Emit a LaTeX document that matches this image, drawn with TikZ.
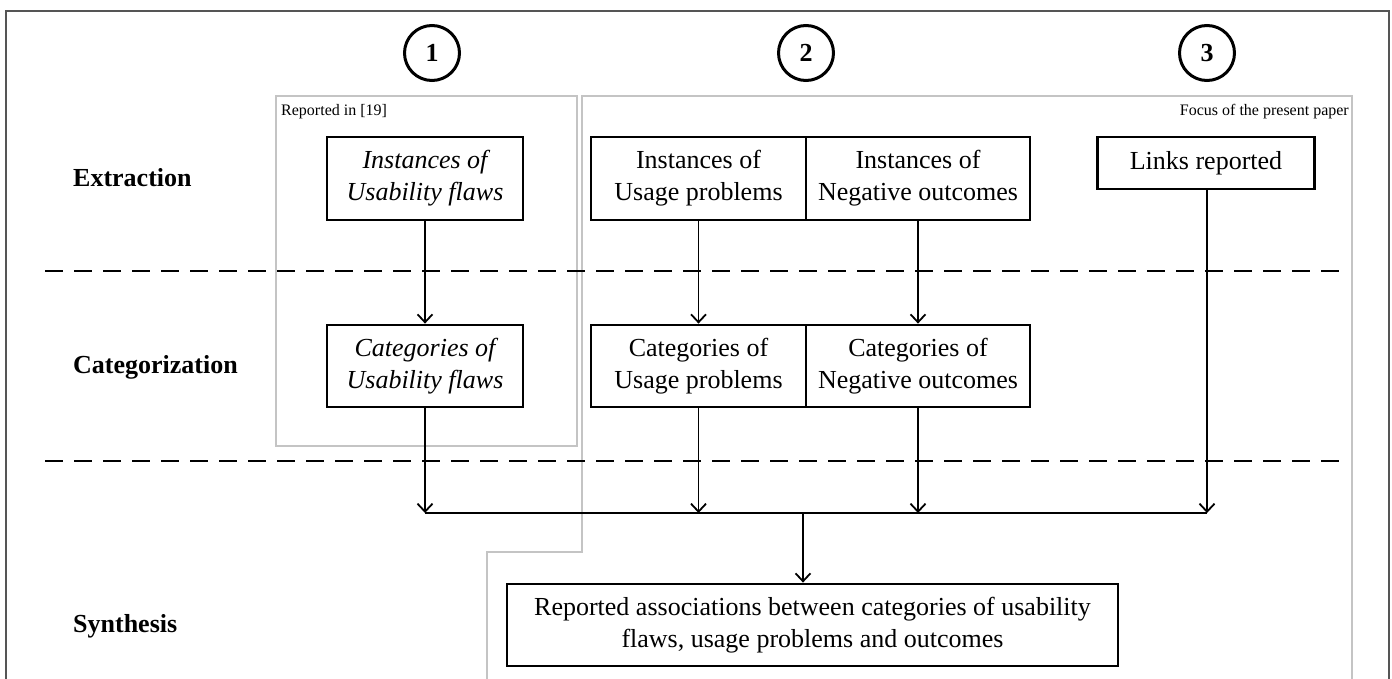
\documentclass[tikz,border=0pt]{standalone}
\usepackage{fontspec}
\setmainfont{Liberation Serif}
\usetikzlibrary{arrows.meta}
\definecolor{framegray}{HTML}{555555}
\definecolor{regiongray}{HTML}{C4C4C4}
\tikzset{
  stagebox/.style={draw=black, line width=2.8pt, align=center, inner sep=0pt,
    font=\fontsize{26}{32}\selectfont},
  numcircle/.style={draw=black, circle, line width=3pt, minimum size=55pt, inner sep=0pt,
    font=\fontsize{26}{30}\selectfont\bfseries},
  rowlabel/.style={anchor=base west, inner sep=0pt, font=\fontsize{26}{30}\selectfont\bfseries},
  smalllabel/.style={inner sep=0pt, font=\fontsize{16}{18}\selectfont},
  region/.style={draw=regiongray, line width=1.6pt},
  flow/.style={draw=black, line width=1.8pt, -{Straight Barb[length=8pt,width=15pt]}},
  plainflow/.style={draw=black, line width=1.8pt},
  separator/.style={draw=black, line width=2.8pt, dash pattern=on 18pt off 11pt}
}
\begin{document}
\begin{tikzpicture}[x=1pt,y=-1pt]
\useasboundingbox (0,0) rectangle (1392,679);
% outer frame (open at the bottom)
\draw[framegray, line width=2pt] (6,679) -- (6,11) -- (1389,11) -- (1389,679);
% regions
\draw[region] (276,96) rectangle (577,446);
\draw[region] (487,679) -- (487,552) -- (582,552) -- (582,96) -- (1352,96) -- (1352,679);
\node[smalllabel, anchor=base west] (rep) at (281,116) {Reported in [19]};
\node[smalllabel, anchor=base east] (foc) at (1349,116) {Focus of the present paper};
% separators
\draw[separator] (45,271) -- (1342,271);
\draw[separator] (45,461) -- (1342,461);
% numbers
\node[numcircle] (n1) at (432,53) {1};
\node[numcircle] (n2) at (806,53) {2};
\node[numcircle] (n3) at (1207,53) {3};
% row labels
\node[rowlabel] (lex) at (73,187) {Extraction};
\node[rowlabel] (lcat) at (73,373) {Categorization};
\node[rowlabel] (lsyn) at (73,632) {Synthesis};
% extraction boxes
\node[stagebox, minimum width=196pt, minimum height=83pt] (iuf) at (425,178.5) {\itshape Instances of\\\itshape Usability flaws};
\node[stagebox, minimum width=215pt, minimum height=83pt] (iup) at (698.5,178.5) {Instances of\\Usage problems};
\node[stagebox, minimum width=224pt, minimum height=83pt] (ino) at (918,178.5) {Instances of\\Negative outcomes};
\node[stagebox, minimum width=217pt, minimum height=52pt] (links) at (1206,163) {Links reported};
% categorization boxes
\node[stagebox, minimum width=196pt, minimum height=82pt] (cuf) at (425,366) {\itshape Categories of\\\itshape Usability flaws};
\node[stagebox, minimum width=215pt, minimum height=82pt] (cup) at (698.5,366) {Categories of\\Usage problems};
\node[stagebox, minimum width=224pt, minimum height=82pt] (cno) at (918,366) {Categories of\\Negative outcomes};
% synthesis box
\node[stagebox, minimum width=611pt, minimum height=82pt] (syn) at (812.5,625) {Reported associations between categories of usability\\flaws, usage problems and outcomes};
% junction coordinates
\coordinate (j1) at (425,513);
\coordinate (j2) at (698.5,513);
\coordinate (j3) at (918,513);
\coordinate (j4) at (1207,513);
\coordinate (jm) at (803,513);
% connectors
\draw[flow] (iuf) -- (cuf);
\draw[flow] (iup) -- (cup);
\draw[flow] (ino) -- (cno);
\draw[flow] (cuf) -- (j1);
\draw[flow] (cup) -- (j2);
\draw[flow] (cno) -- (j3);
\draw[flow] (links.south -| j4) -- (j4);
\draw[plainflow] (j1) -- (j4);
\draw[flow] (jm) -- (jm |- syn.north);
\end{tikzpicture}
\end{document}
